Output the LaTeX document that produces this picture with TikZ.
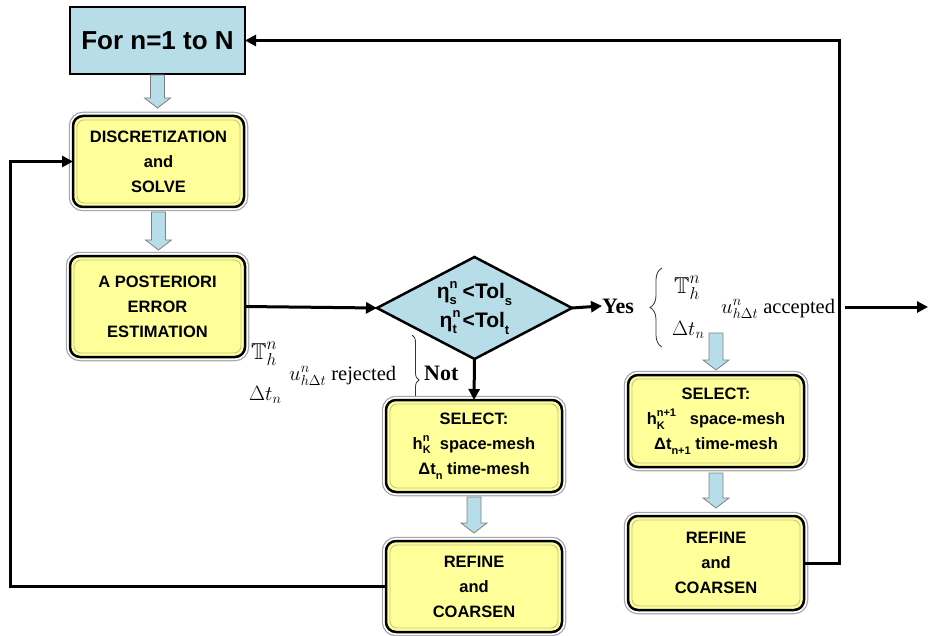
\documentclass[tikz,border=0pt]{standalone}
\usepackage{amssymb}
\usepackage{fontspec}
\setmainfont{Liberation Serif}
\newfontfamily\arialf{Liberation Sans}
\usetikzlibrary{shapes.geometric,arrows.meta,decorations.pathreplacing,calc}
\definecolor{lblue}{HTML}{B7DEE8}
\definecolor{lyel}{HTML}{FFFF99}
\newcommand\supsubx[3][11]{\rlap{\raisebox{0.48em}{\fontsize{#1}{#1}\selectfont #2}}\raisebox{-0.25em}{\fontsize{#1}{#1}\selectfont #3}}
\newcommand\subsupx[3][11]{\rlap{\raisebox{-0.3em}{\fontsize{#1}{#1}\selectfont #3}}\raisebox{0.5em}{\fontsize{#1}{#1}\selectfont #2}}
\newcommand\subx[2][11]{\raisebox{-0.3em}{\fontsize{#1}{#1}\selectfont #2}}
\newcommand\barr[2]{%
  \draw[barrow] let \p1=(#1), \p2=(#2) in
    (\x1-7pt,\y1) -- (\x1+7pt,\y1) -- (\x1+7pt,\y2+10pt) -- (\x1+13pt,\y2+10pt)
    -- (\x1,\y2) -- (\x1-13pt,\y2+10pt) -- (\x1-7pt,\y2+10pt) -- cycle;}
\begin{document}
\begin{tikzpicture}[x=1pt,y=-1pt,
  ybox/.style={draw=black, line width=2.5pt, fill=lyel, rounded corners=10pt,
    inner sep=0pt, outer sep=0pt, align=center,
    font=\arialf\bfseries\fontsize{16.5}{25}\selectfont,
    preaction={draw=gray!70, line width=8.5pt},
    preaction={draw=white, line width=6pt}},
  innerline/.style={draw=gray!45!lyel, line width=0.9pt, rounded corners=7pt},
  bluebox/.style={draw=black, line width=2.5pt, fill=lblue, inner sep=0pt, outer sep=0pt,
    font=\arialf\bfseries\fontsize{26}{30}\selectfont},
  decision/.style={diamond, draw=black, line width=2.5pt, fill=lblue, aspect=1.9,
    inner sep=0pt, outer sep=0pt, minimum width=195pt, minimum height=102pt, align=center,
    font=\arialf\bfseries\fontsize{21}{29}\selectfont},
  conn/.style={draw=black, line width=3pt, -{Triangle[length=11pt,width=11pt]}},
  barrow/.style={fill=lblue, draw=gray, line width=0.8pt},
  lbl/.style={font=\fontsize{20.5}{24}\selectfont, inner sep=0pt},
  tlbl/.style={font=\fontsize{23}{26}\selectfont, inner sep=0pt},
  bracestyle/.style={draw=black!80, line width=0.8pt, decorate}
]
\useasboundingbox (0,0) rectangle (928,636);

% main boxes
\node[bluebox, minimum width=175pt, minimum height=67pt] (for) at (157.5,40.5) {For n=1 to N};
\node[ybox, minimum width=171pt, minimum height=91pt] (disc) at (158.5,161.5) {DISCRETIZATION\\and\\SOLVE};
\node[ybox, minimum width=175pt, minimum height=101pt] (post) at (157.5,306.5) {A POSTERIORI\\ERROR\\ESTIMATION};
\node[decision] (dia) at (474.5,308) {η\supsubx[13]{n}{s} <Tol\subx[13]{s}\\η\supsubx[13]{n}{t} <Tol\subx[13]{t}};

% braces (drawn before select box so that it covers the lower part)
\draw[bracestyle, decoration={brace, amplitude=7pt}] (412,335) -- (412,425);
\draw[bracestyle, decoration={brace, amplitude=12pt}] (662,347) -- (662,268);

\node[ybox, minimum width=176pt, minimum height=92pt] (sl) at (474,446) {SELECT:\\h\supsubx{n}{K}\ \ space-mesh\\Δt\subx{n} time-mesh};
\node[ybox, minimum width=176pt, minimum height=91pt] (rl) at (474,586.5) {REFINE\\and\\COARSEN};
\node[ybox, minimum width=176pt, minimum height=92pt] (sr) at (716,421) {SELECT:\\h\subsupx{n+1}{K}\ \ \ space-mesh\\Δt\subx{n+1} time-mesh};
\node[ybox, minimum width=176pt, minimum height=94pt] (rr) at (716,563) {REFINE\\and\\COARSEN};

\foreach \n in {disc,post,sl,rl,sr,rr}
  \draw[innerline] ($(\n.north west)+(4,4)$) rectangle ($(\n.south east)+(-4,-4)$);

% labels
\node[tlbl, anchor=base west] (trej) at (251,359) {$\mathbb{T}_h^n$};
\node[lbl, anchor=base west] (drej) at (249,400) {$\Delta t_n$};
\node[lbl, anchor=base west] (urej) at (289,380) {$u^n_{h\Delta t}$ rejected};
\node[lbl, anchor=base west, font=\fontsize{22}{24}\selectfont] (not) at (424,380) {\textbf{Not}};
\node[lbl, anchor=base west, font=\fontsize{22}{24}\selectfont] (yes) at (602,313) {\textbf{Yes}};
\node[tlbl, anchor=base west] (tacc) at (674,293) {$\mathbb{T}_h^n$};
\node[lbl, anchor=base west] (dacc) at (672,335) {$\Delta t_n$};
\node[lbl, anchor=base west] (uacc) at (721,313) {$u^n_{h\Delta t}$ accepted};

% block arrows
\coordinate (a4s) at (716,333);
\barr{[yshift=-1pt]for.south}{[yshift=8pt]disc.north}
\barr{[yshift=-5pt]disc.south}{[yshift=6pt]post.north}
\barr{[yshift=-5pt]sl.south}{[yshift=8pt]rl.north}
\barr{a4s}{[yshift=5pt]sr.north}
\barr{[yshift=-6pt]sr.south}{[yshift=8pt]rr.north}

% connectors
\draw[conn] (post.east) -- (dia.west);
\draw[conn] (dia.east) -- (yes.west);
\draw[conn] (dia.south) -- (sl.north);
\draw[conn] (rl.west) -- ++(-376,0) |- (disc.west);
\draw[conn] (rr.east) -- ++(35,0) |- (for.east);
\coordinate (exs) at (845,307);
\coordinate (exe) at (928,307);
\draw[conn] (exs) -- (exe);
\end{tikzpicture}
\end{document}
